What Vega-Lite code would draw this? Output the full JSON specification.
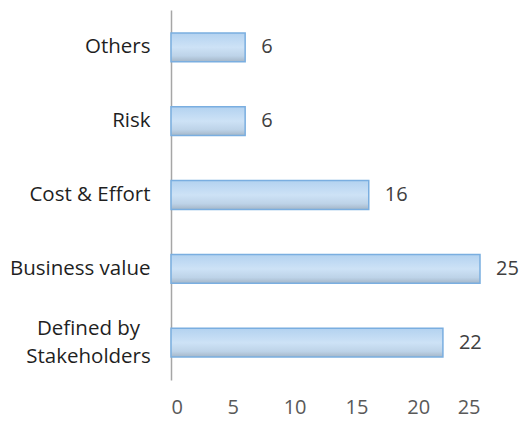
{
  "$schema": "https://vega.github.io/schema/vega-lite/v6.json",
  "autosize": "none",
  "width": 309,
  "height": 370,
  "padding": {"left": 171, "top": 10, "right": 43, "bottom": 41},
  "background": "white",
  "config": {"view": {"stroke": null}, "font": "Open Sans"},
  "data": {"values": [
    {"category": "Others", "value": 6},
    {"category": "Risk", "value": 6},
    {"category": "Cost & Effort", "value": 16},
    {"category": "Business value", "value": 25},
    {"category": "Defined by Stakeholders", "value": 22}
  ]},
  "encoding": {
    "y": {"field": "category", "type": "nominal", "sort": null,
      "scale": {"paddingInner": 0.61, "paddingOuter": 0.31},
      "axis": {"title": null, "ticks": false, "domainColor": "#a6a6a6", "domainWidth": 1.5,
        "labelFontSize": 20.5, "labelColor": "#1f1f1f", "labelFont": "Open Sans",
        "labelPadding": {"condition": {"test": "datum.label == 'Defined by Stakeholders'", "value": 83}, "value": 21},
        "labelAlign": {"condition": {"test": "datum.label == 'Defined by Stakeholders'", "value": "center"}, "value": "right"},
        "labelOffset": {"condition": {"test": "datum.label == 'Defined by Stakeholders'", "value": -14}, "value": 0},
        "labelExpr": "datum.label == 'Defined by Stakeholders' ? ['Defined by', 'Stakeholders'] : datum.label",
        "labelLineHeight": 28}},
    "x": {"field": "value", "type": "quantitative",
      "scale": {"domain": [0, 25], "nice": false},
      "axis": {"title": null, "values": [0, 5, 10, 15, 20, 25], "grid": false, "ticks": false, "domain": false,
        "labelFontSize": 20, "labelColor": "#595959", "labelPadding": 17, "labelFont": "Open Sans"}}
  },
  "layer": [
    {"mark": {"type": "bar", "stroke": "#7aaee0", "strokeWidth": 1.5,
      "fill": {"gradient": "linear", "x1": 0, "y1": 0, "x2": 0, "y2": 1,
        "stops": [{"offset": 0, "color": "#b3d2f0"}, {"offset": 0.5, "color": "#cde2f6"}, {"offset": 0.8, "color": "#bdd3e8"}, {"offset": 1, "color": "#a4b6c8"}]}}},
    {"mark": {"type": "text", "align": "left", "dx": 16, "fontSize": 20, "color": "#404040", "font": "Open Sans"},
      "encoding": {"text": {"field": "value", "type": "quantitative"}}}
  ]
}
